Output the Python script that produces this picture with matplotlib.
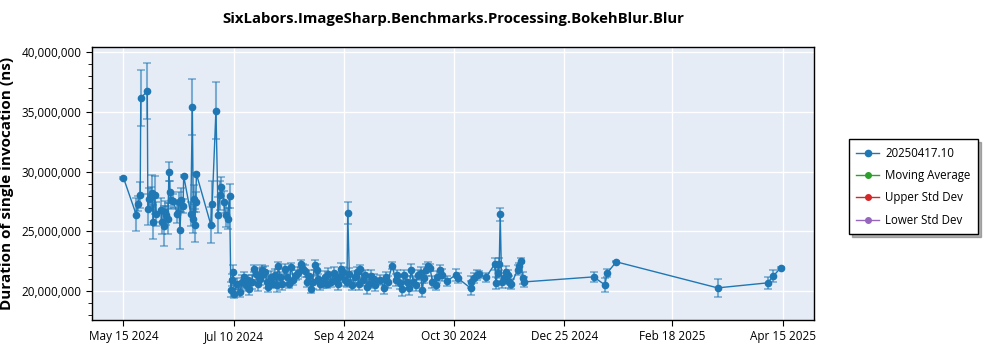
import numpy as np
import pandas as pd
import matplotlib
matplotlib.use("Agg")
import matplotlib.pyplot as plt
from matplotlib.ticker import MultipleLocator, FuncFormatter

plt.rcParams['font.family'] = ['Open Sans', 'DejaVu Sans']

title = "SixLabors.ImageSharp.Benchmarks.Processing.BokehBlur.Blur"
series_name = "20250417.10"
start_date = "2024-05-15"

# days after start_date, mean duration (ms == 1e6 ns), std error half-width (ms)
run_day = [
    0, 6.5, 7.3, 8.5, 8.8, 12.1, 12.4, 13.1, 14.1, 14.6, 15.1, 15.8, 16.7, 19.2, 19.5,
    20.4, 20.9, 21.8, 22.6, 23.1, 23.5, 24.3, 25.2, 27.4, 28.1, 28.7, 29.4, 30.3, 30.6,
    34.2, 35.0, 35.5, 35.9, 36.2, 36.7, 37.1, 44.4, 45.1, 47.0, 48.1, 49.0, 49.8, 51.0,
    51.9, 52.9, 53.9,
    54.6, 55.3, 55.8, 56.3, 57.5, 59.2, 60.4, 61.4, 62.1, 63.1, 63.8, 65.1, 66.5, 67.2,
    68.2, 69.2, 70.3, 71.1, 71.9, 72.8, 73.6, 75.0, 76.2, 77.0, 77.9, 78.7, 79.6, 80.8,
    82.1, 83.2, 84.2, 85.2, 86.4, 87.6, 88.9, 90.3, 91.5, 92.3, 93.2, 94.4, 95.4, 96.1,
    97.1, 98.3, 99.1, 100.0, 101.2, 102.2, 103.4, 104.2, 105.6, 106.8, 107.7, 109.0,
    109.7, 110.7, 111.4, 112.4, 113.6, 114.0, 114.8, 116.2, 117.5, 118.7, 119.5, 120.4,
    121.6, 122.6, 123.8, 124.7, 126.0, 127.2, 128.1, 130.6, 132.3, 133.2, 134.3, 136.6,
    138.3, 139.1, 140.5, 141.7, 142.5, 143.9, 145.1, 146.3, 147.3, 148.5, 149.6, 151.0,
    151.9, 152.7, 153.6, 154.7, 155.8, 157.0, 158.7, 159.5, 160.9, 162.1, 164.6, 168.9,
    170.0, 176.5, 176.9, 178.2, 179.6, 180.8, 184.2, 188.8, 189.3, 190.2, 191.0, 191.5,
    192.2, 193.5, 194.4, 195.3, 196.1, 197.0, 200.4, 201.2, 202.0, 202.9, 203.7,
    239.0, 244.7, 245.9, 250.5, 302.0, 327.4, 330.2, 334.0,
]
duration_ms = [
    29.49, 26.40, 27.33, 28.03, 36.18, 36.74, 26.85, 27.75, 27.89, 28.26, 25.79, 28.03, 26.49, 26.77, 25.79,
    25.45, 26.63, 26.35, 26.07, 30.00, 28.31, 27.61, 27.53, 26.49, 27.47, 25.11, 27.61, 27.13, 29.66,
    26.49, 35.39, 26.07, 27.75, 25.51, 27.47, 29.80, 25.56, 27.33, 35.11, 26.35, 28.03, 28.74, 27.47,
    26.35, 26.07, 27.98,
    20.14, 20.92, 21.62, 19.80, 20.64, 19.94, 20.78, 21.20, 20.50, 20.92, 20.22, 20.78, 21.90, 21.48,
    20.64, 21.06, 21.76, 21.42, 21.62, 20.78, 20.36, 21.20, 20.64, 21.34, 20.56, 22.12, 21.20, 20.64,
    21.84, 21.15, 20.64, 22.04, 20.98, 21.34, 21.54, 22.32, 21.90, 21.70, 20.78, 21.26, 20.22, 20.78,
    22.18, 21.76, 21.06, 20.64, 20.70, 21.20, 20.64, 21.48, 20.78, 21.56, 20.98, 20.64,
    21.20, 21.90, 21.62, 20.92, 20.78, 26.55, 21.48, 20.50, 21.20, 21.62, 20.64, 21.82,
    20.92, 21.34, 20.36, 20.64, 21.26, 21.06, 20.53, 20.95, 20.25, 21.23, 20.81, 22.15,
    20.95, 21.37, 20.67, 20.20, 21.37, 20.75, 20.25, 21.79, 20.81, 20.53, 21.37, 21.51,
    20.11, 21.09, 21.79, 22.07, 21.98, 20.81, 20.53, 21.23, 21.79, 21.37, 20.87, 21.37,
    21.09, 20.25, 20.75, 21.09, 21.37, 21.42, 21.15, 22.29, 20.67, 21.51, 22.26, 26.45,
    20.81, 21.09, 21.65, 21.37, 20.81, 20.59, 21.79, 22.07, 22.54, 21.09, 20.78,
    21.20, 20.53, 21.54, 22.46, 20.28, 20.70, 21.25, 21.95,
]
error_ms = [
    0.1, 1.4, 0.6, 1.1, 2.35, 2.35, 1.3, 0.9, 0.8, 1.5, 1.4, 1.6, 1.0, 1.0, 1.0,
    1.7, 0.9, 0.8, 1.3, 0.8, 0.9, 0.7, 0.6, 0.8, 0.8, 1.6, 1.0, 0.6, 0.1,
    1.0, 2.35, 1.2, 1.1, 1.4, 0.8, 0.1, 1.5, 1.9, 2.4, 1.5, 1.2, 0.8, 0.9,
    1.0, 0.9, 1.0,
    0.6, 0.5, 0.6, 0.4, 0.5, 0.4, 0.6, 0.4, 0.5, 0.4, 0.5, 0.6, 0.3, 0.5,
    0.6, 0.5, 0.4, 0.6, 0.5, 0.5, 0.4, 0.5, 0.4, 0.5, 0.6, 0.3, 0.4, 0.5,
    0.4, 0.5, 0.4, 0.3, 0.5, 0.4, 0.5, 0.3, 0.4, 0.5, 0.4, 0.5, 0.4, 0.6,
    0.4, 0.5, 0.4, 0.5, 0.4, 0.5, 0.4, 0.5, 0.4, 0.5, 0.4, 0.5,
    0.4, 0.5, 0.4, 0.5, 0.4, 0.9, 0.5, 0.4, 0.5, 0.4, 0.5, 0.4,
    0.5, 0.4, 0.6, 0.4, 0.5, 0.4, 0.5, 0.4, 0.5, 0.4, 0.5, 0.3,
    0.5, 0.4, 0.5, 0.6, 0.4, 0.5, 0.6, 0.5, 0.4, 0.5, 0.4, 0.5,
    0.6, 0.4, 0.5, 0.4, 0.3, 0.5, 0.4, 0.5, 0.4, 0.5, 0.4, 0.5,
    0.4, 0.6, 0.5, 0.4, 0.4, 0.3, 0.4, 0.5, 0.5, 0.4, 0.5, 0.55,
    0.5, 0.4, 0.5, 0.4, 0.5, 0.4, 0.4, 0.3, 0.2, 0.5, 0.4,
    0.4, 0.6, 0.35, 0.05, 0.75, 0.5, 0.5, 0.1,
]
tick_dates = ["2024-05-15", "2024-07-10", "2024-09-04", "2024-10-30",
              "2024-12-25", "2025-02-18", "2025-04-15"]
legend_extra = ["Moving Average", "Upper Std Dev", "Lower Std Dev"]
legend_extra_colors = ["#2ca02c", "#d62728", "#9467bd"]


def main():
    dates = pd.Timestamp(start_date) + pd.to_timedelta(run_day, unit="D")
    y = np.array(duration_ms) * 1e6
    yerr = np.array(error_ms) * 1e6

    fig = plt.figure(figsize=(10, 3.5), dpi=100)
    ax = fig.add_axes([0.092, 0.086, 0.722, 0.78])
    ax.set_facecolor("#e5ecf6")

    blue = "#1f77b4"
    ax.errorbar(dates, y, yerr=yerr, fmt="none", ecolor=blue, elinewidth=1.5,
                capsize=3, capthick=1.2, alpha=0.55, zorder=2)
    ax.plot(dates, y, color=blue, lw=1, marker="o", ms=4.5, label=series_name, zorder=3)
    for name, c in zip(legend_extra, legend_extra_colors):
        ax.plot([], [], color=c, lw=1, marker="o", ms=4, label=name)

    ax.set_title(title, fontsize=10.7, fontweight="bold", pad=17)
    ax.set_ylabel("Duration of single invocation (ns)", fontsize=11, fontweight="bold")
    ax.yaxis.set_label_coords(-0.108, 0.5)

    ax.set_ylim(17.6e6, 40.45e6)
    ax.yaxis.set_major_locator(MultipleLocator(5e6))
    ax.yaxis.set_minor_locator(MultipleLocator(1e6))
    ax.yaxis.set_major_formatter(FuncFormatter(lambda v, p: f"{v:,.0f}"))

    ax.set_xlim(pd.Timestamp("2024-04-29"), pd.Timestamp("2025-05-01"))
    ticks = pd.to_datetime(tick_dates)
    ax.set_xticks(ticks)
    ax.set_xticklabels([f"{t:%b} {t.day} {t.year}" for t in ticks])

    ax.tick_params(labelsize=8.5, direction="out", length=4, color="black")
    ax.tick_params(which="minor", length=3)
    ax.grid(True, color="white", lw=1)
    ax.set_axisbelow(True)
    for s in ax.spines.values():
        s.set_color("black")
        s.set_linewidth(1)

    fig.legend(loc="upper left", bbox_to_anchor=(0.843, 0.618), fontsize=8.3,
               frameon=True, fancybox=False, shadow={"ox": 2, "oy": -2, "color": "0.4"},
               edgecolor="black", borderpad=0.65, labelspacing=0.8,
               handlelength=2.0, handletextpad=0.5)

    fig.savefig("out.png", dpi=100)
    plt.close(fig)


if __name__ == "__main__":
    main()
